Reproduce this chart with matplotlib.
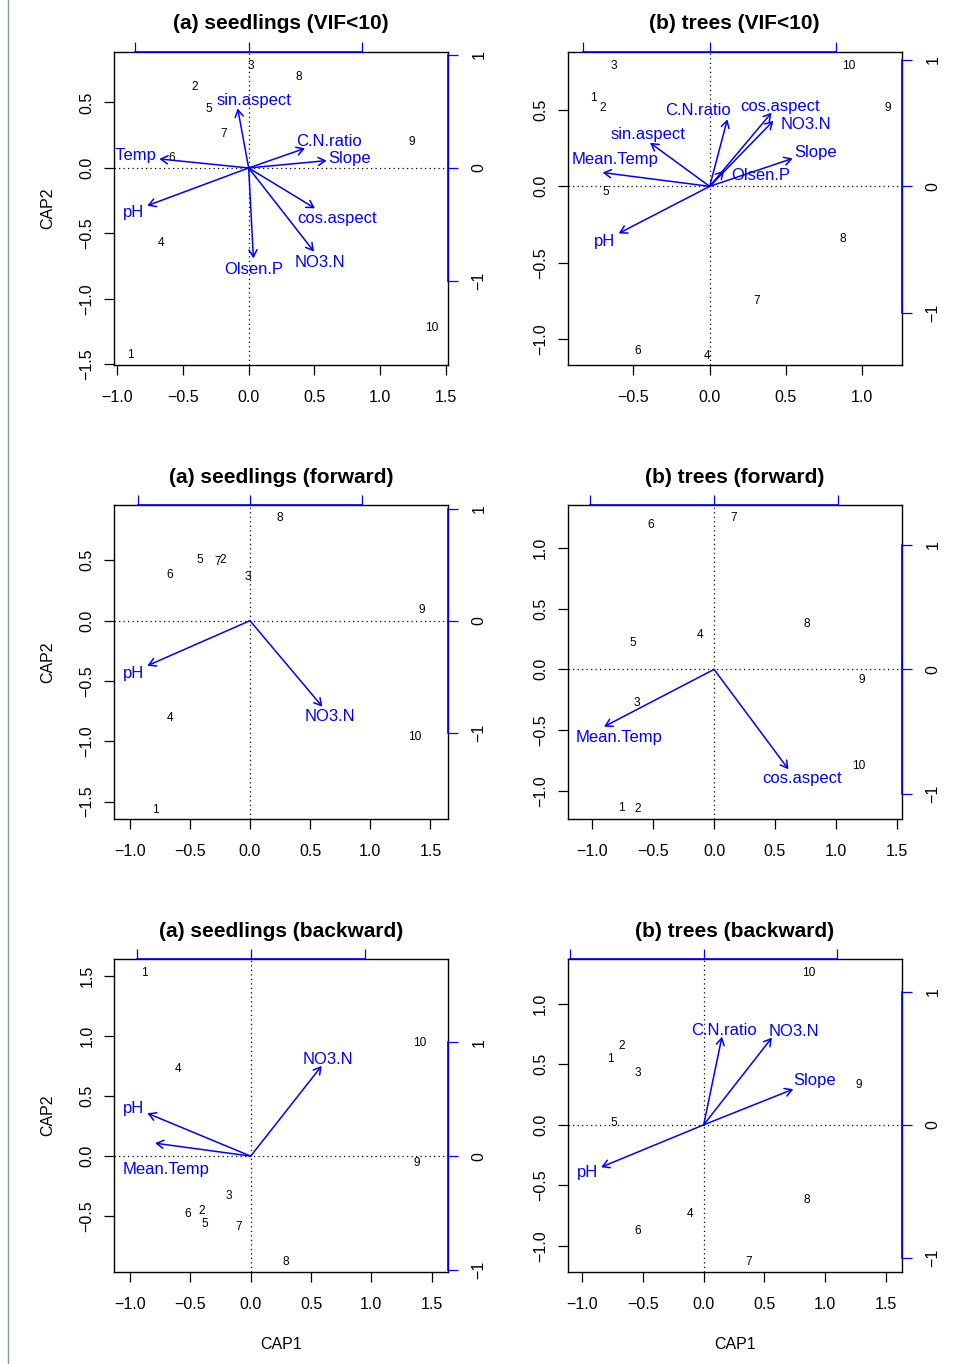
import matplotlib.pyplot as plt
from matplotlib.lines import Line2D
from matplotlib.ticker import MultipleLocator, FuncFormatter

plt.rcParams['font.family'] = ['Liberation Sans', 'DejaVu Sans']

sites = [str(i) for i in range(1, 11)]

# site scores (CAP1, CAP2) and biplot scores for each model
# (a) seedlings, VIF<10
sv_x = [-0.904, -0.409, 0.018, -0.670, -0.305, -0.586, -0.190, 0.381, 1.241, 1.393]
sv_y = [-1.420, 0.629, 0.794, -0.562, 0.461, 0.087, 0.272, 0.705, 0.209, -1.211]
sv_vars = ['sin.aspect', 'C.N.ratio', 'Slope', 'Mean.Temp', 'pH', 'cos.aspect', 'NO3.N', 'Olsen.P']
sv_bp_x = [-0.097, 0.497, 0.688, -0.788, -0.895, 0.585, 0.576, 0.042]
sv_bp_y = [0.527, 0.174, 0.065, 0.080, -0.334, -0.357, -0.740, -0.800]
sv_mul = 0.863

# (b) trees, VIF<10
tv_x = [-0.762, -0.703, -0.627, -0.017, -0.681, -0.472, 0.310, 0.873, 1.164, 0.913]
tv_y = [0.587, 0.522, 0.801, -1.098, -0.024, -1.066, -0.740, -0.336, 0.522, 0.801]
tv_vars = ['C.N.ratio', 'cos.aspect', 'NO3.N', 'Slope', 'Olsen.P', 'sin.aspect', 'Mean.Temp', 'pH']
tv_bp_x = [0.140, 0.490, 0.504, 0.657, 0.114, -0.472, -0.847, -0.720]
tv_bp_y = [0.530, 0.583, 0.519, 0.221, 0.124, 0.345, 0.109, -0.372]
tv_mul = 0.828

# (a) seedlings, forward selection
sf_x = [-0.789, -0.227, -0.019, -0.662, -0.421, -0.670, -0.271, 0.244, 1.427, 1.371]
sf_y = [-1.555, 0.514, 0.378, -0.798, 0.519, 0.390, 0.497, 0.862, 0.099, -0.948]
sf_vars = ['pH', 'NO3.N']
sf_bp_x = [-0.919, 0.648]
sf_bp_y = [-0.402, -0.768]
sf_mul = 0.928

# (b) trees, forward selection
tf_x = [-0.764, -0.627, -0.638, -0.115, -0.671, -0.521, 0.164, 0.762, 1.214, 1.192]
tf_y = [-1.129, -1.137, -0.266, 0.296, 0.233, 1.197, 1.255, 0.389, -0.077, -0.778]
tf_vars = ['Mean.Temp', 'cos.aspect']
tf_bp_x = [-0.885, 0.598]
tf_bp_y = [-0.461, -0.804]
tf_mul = 1.022

# (a) seedlings, backward selection
sb_x = [-0.881, -0.406, -0.177, -0.605, -0.381, -0.522, -0.102, 0.293, 1.373, 1.398]
sb_y = [1.540, -0.440, -0.319, 0.737, -0.551, -0.468, -0.573, -0.867, -0.042, 0.953]
sb_vars = ['NO3.N', 'pH', 'Mean.Temp']
sb_bp_x = [0.622, -0.905, -0.838]
sb_bp_y = [0.794, 0.377, 0.114]
sb_mul = 0.946

# (b) trees, backward selection
tb_x = [-0.772, -0.676, -0.544, -0.113, -0.745, -0.544, 0.368, 0.849, 1.275, 0.863]
tb_y = [0.555, 0.659, 0.437, -0.723, 0.025, -0.865, -1.118, -0.607, 0.341, 1.269]
tb_vars = ['C.N.ratio', 'NO3.N', 'Slope', 'pH']
tb_bp_x = [0.137, 0.512, 0.672, -0.770]
tb_bp_y = [0.662, 0.655, 0.268, -0.318]
tb_mul = 1.099

# where the arrow names go (site-score units), kept clear of the arrows
sv_lab = ([0.038, 0.609, 0.772, -1.030, -0.876, 0.673, 0.543, 0.036],
          [0.529, 0.214, 0.081, 0.104, -0.326, -0.372, -0.710, -0.766])
tv_lab = ([-0.079, 0.461, 0.629, 0.697, 0.334, -0.406, -0.620, -0.688],
          [0.504, 0.533, 0.413, 0.234, 0.081, 0.352, 0.183, -0.352])
sf_lab = ([-0.967, 0.662], [-0.423, -0.785])
tf_lab = ([-0.784, 0.726], [-0.545, -0.888])
sb_lab = ([0.638, -0.967, -0.704], [0.814, 0.407, -0.102])
tb_lab = ([0.170, 0.742, 0.918, -0.956], [0.788, 0.783, 0.376, -0.379])

W, H = 956, 1364
cols = [(114, 447.7), (567.7, 901.7)]
rows = [(51.7, 365), (505, 819), (959, 1272)]

panels = [
    ('(a) seedlings (VIF<10)', sv_x, sv_y, sv_vars, sv_bp_x, sv_bp_y, sv_mul, sv_lab,
     (-1.025, 1.515), (-1.505, 0.888)),
    ('(b) trees (VIF<10)', tv_x, tv_y, tv_vars, tv_bp_x, tv_bp_y, tv_mul, tv_lab,
     (-0.930, 1.258), (-1.170, 0.882)),
    ('(a) seedlings (forward)', sf_x, sf_y, sf_vars, sf_bp_x, sf_bp_y, sf_mul, sf_lab,
     (-1.130, 1.643), (-1.644, 0.959)),
    ('(b) trees (forward)', tf_x, tf_y, tf_vars, tf_bp_x, tf_bp_y, tf_mul, tf_lab,
     (-1.203, 1.542), (-1.230, 1.351)),
    ('(a) seedlings (backward)', sb_x, sb_y, sb_vars, sb_bp_x, sb_bp_y, sb_mul, sb_lab,
     (-1.133, 1.633), (-0.964, 1.640)),
    ('(b) trees (backward)', tb_x, tb_y, tb_vars, tb_bp_x, tb_bp_y, tb_mul, tb_lab,
     (-1.121, 1.632), (-1.214, 1.368)),
]

minus = FuncFormatter(lambda v, p: ('%.1f' % v).replace('-', '\u2212'))
minus_int = FuncFormatter(lambda v, p: ('%d' % round(v)).replace('-', '\u2212'))


def biplot(ax, title, x, y, names, bx, by, mul, lab, xlim, ylim):
    ax.set_xlim(*xlim)
    ax.set_ylim(*ylim)
    ax.axhline(0, color='black', lw=0.9, ls=(0, (1, 2.6)))
    ax.axvline(0, color='black', lw=0.9, ls=(0, (1, 2.6)))
    for s, sx, sy in zip(sites, x, y):
        ax.text(sx, sy, s, ha='center', va='center_baseline', fontsize=8.6)
    for name, ex, ey, lx, ly in zip(names, bx, by, lab[0], lab[1]):
        ax.annotate('', xy=(ex * mul, ey * mul), xytext=(0, 0),
                    arrowprops=dict(arrowstyle='->,head_length=0.5,head_width=0.29',
                                    color='blue', lw=1.1, shrinkA=0, shrinkB=0))
        ax.text(lx, ly, name, color='blue', fontsize=12, ha='center',
                va='center_baseline', clip_on=True)

    ax.xaxis.set_major_locator(MultipleLocator(0.5))
    ax.yaxis.set_major_locator(MultipleLocator(0.5))
    ax.xaxis.set_major_formatter(minus)
    ax.yaxis.set_major_formatter(minus)
    ax.tick_params(axis='both', length=7.2, width=0.9, labelsize=11.5)
    ax.tick_params(axis='x', pad=11)
    ax.tick_params(axis='y', pad=7, labelrotation=90)
    for lbl in ax.get_yticklabels():
        lbl.set_verticalalignment('center')
    for sp in ax.spines.values():
        sp.set_linewidth(1.0)

    # scale of the biplot arrows on the top and right
    top = ax.secondary_xaxis('top', functions=(lambda v: v / mul, lambda v: v * mul))
    top.set_zorder(5)
    top.set_xticks([-1, 0, 1])
    top.tick_params(color='blue', length=7.2, width=0.9, labeltop=False)
    top.spines['top'].set_bounds(-1, 1)
    top.spines['top'].set_color('blue')
    top.spines['top'].set_linewidth(1.2)

    right = ax.secondary_yaxis('right', functions=(lambda v: v / mul, lambda v: v * mul))
    right.set_zorder(5)
    right.set_yticks([-1, 0, 1])
    right.yaxis.set_major_formatter(minus_int)
    right.tick_params(color='blue', length=7.2, width=0.9, labelsize=11.5,
                      pad=10, labelrotation=90)
    for lbl in right.get_yticklabels():
        lbl.set_verticalalignment('center')
    right.spines['right'].set_bounds(-1, 1)
    right.spines['right'].set_color('blue')
    right.spines['right'].set_linewidth(1.2)

    ax.set_title(title, fontsize=15, fontweight='bold', pad=16, y=1.0)


fig = plt.figure(figsize=(W / 100, H / 100), dpi=100)
fig.add_artist(Line2D([7.5 / W, 7.5 / W], [0, 1], color='#8497b5', lw=1.0))

for i, p in enumerate(panels):
    x0, x1 = cols[i % 2]
    y0, y1 = rows[i // 2]
    ax = fig.add_axes([x0 / W, 1 - y1 / H, (x1 - x0) / W, (y1 - y0) / H])
    biplot(ax, *p)
    if i % 2 == 0:
        ax.set_ylabel('CAP2', fontsize=11.5, labelpad=17)
    if i >= 4:
        ax.set_xlabel('CAP1', fontsize=11.5, labelpad=18)

fig.savefig('out.png', dpi=100)
